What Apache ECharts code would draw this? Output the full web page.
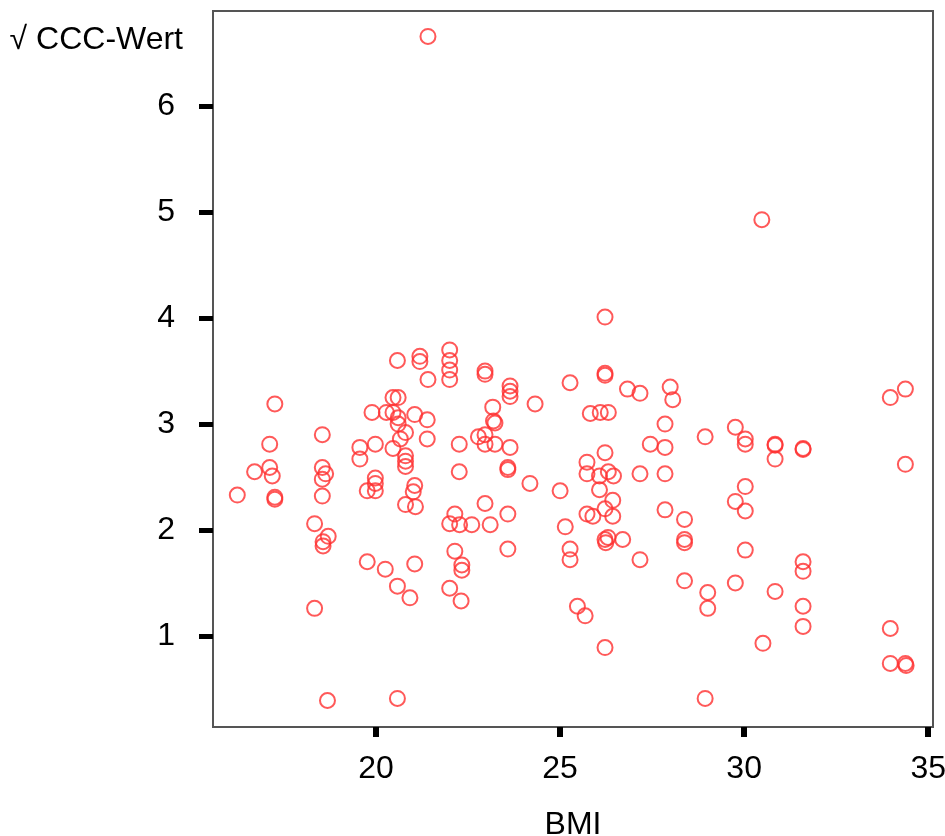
<!DOCTYPE html>
<html>
<head>
<meta charset="utf-8">
<script src="https://cdn.jsdelivr.net/npm/echarts@6/dist/echarts.min.js"></script>
<style>
html,body{margin:0;padding:0;background:#fff;}
#chart{width:945px;height:836px;}
</style>
</head>
<body>
<div id="chart"></div>
<script>
// BMI values (x)
const bmi = [
  16.23, 16.70, 17.11, 17.11, 17.18, 17.25, 17.25, 17.25, 18.33, 18.33,
  18.54, 18.54, 18.63, 18.54, 18.54, 18.70, 18.56, 18.56, 18.68, 19.56,
  19.56, 19.76, 19.76, 19.89, 19.98, 19.98, 19.98, 19.98, 20.25, 20.28,
  20.46, 20.60, 20.46, 20.46, 20.58, 20.60, 20.60, 20.58, 20.58, 20.66,
  20.80, 20.80, 20.80, 20.80, 20.80, 20.92, 21.05, 21.05, 21.01, 21.07,
  21.05, 21.19, 21.19, 21.39, 21.39, 21.41, 21.41, 22.00, 22.00, 22.00,
  22.00, 22.00, 22.00, 22.14, 22.14, 22.26, 22.26, 22.27, 22.33, 22.33,
  22.31, 22.60, 22.78, 22.96, 22.96, 22.96, 22.96, 22.96, 23.10, 23.17,
  23.19, 23.23, 23.23, 23.58, 23.58, 23.58, 23.58, 23.64, 23.64, 23.64,
  23.64, 24.18, 24.32, 25.00, 25.14, 25.27, 25.27, 25.27, 25.47, 25.68,
  25.73, 25.73, 25.73, 25.82, 25.89, 26.07, 26.07, 26.09, 26.22, 26.22,
  26.22, 26.22, 26.22, 26.22, 26.24, 26.30, 26.22, 26.31, 26.31, 26.43,
  26.43, 26.45, 26.70, 26.83, 27.17, 27.17, 27.17, 27.45, 27.85, 27.85,
  27.85, 27.85, 27.99, 28.06, 28.38, 28.38, 28.38, 28.38, 28.94, 28.94,
  29.01, 29.01, 29.76, 29.76, 29.76, 30.03, 30.03, 30.03, 30.03, 30.03,
  30.48, 30.51, 30.84, 30.84, 30.84, 30.84, 31.60, 31.60, 31.60, 31.60,
  31.60, 31.60, 33.97, 33.97, 33.97, 34.38, 34.38, 34.38, 34.40
];
// sqrt CCC values (y)
const ccc = [
  2.33, 2.55, 2.81, 2.59, 2.51, 3.19, 2.31, 2.29, 2.06, 1.26,
  2.90, 2.59, 2.53, 2.48, 2.32, 1.94, 1.89, 1.85, 0.39, 2.78,
  2.67, 2.37, 1.70, 3.11, 2.81, 2.49, 2.44, 2.37, 1.63, 3.11,
  3.25, 3.25, 3.11, 2.77, 3.60, 3.06, 3.00, 1.47, 0.41, 2.86,
  2.92, 2.70, 2.65, 2.60, 2.24, 1.36, 3.09, 2.42, 2.36, 2.22,
  1.68, 3.64, 3.59, 3.04, 2.86, 3.42, 6.66, 3.70, 3.60, 3.51,
  3.42, 2.06, 1.45, 2.15, 1.80, 2.81, 2.55, 2.05, 1.67, 1.62,
  1.33, 2.05, 2.88, 2.90, 2.81, 3.50, 3.47, 2.25, 2.05, 3.16,
  3.03, 3.01, 2.81, 2.59, 2.57, 2.15, 1.82, 3.36, 3.31, 3.26,
  2.78, 2.44, 3.19, 2.37, 2.03, 3.39, 1.82, 1.72, 1.28, 1.19,
  2.64, 2.53, 2.15, 3.10, 2.13, 2.51, 2.38, 3.11, 3.48, 3.46,
  4.01, 2.73, 2.20, 1.91, 1.88, 1.93, 0.89, 3.11, 2.55, 2.28,
  2.13, 2.51, 1.91, 3.33, 3.29, 2.53, 1.72, 2.81, 3.00, 2.78,
  2.53, 2.19, 3.35, 3.23, 2.10, 1.91, 1.88, 1.52, 2.88, 0.41,
  1.41, 1.26, 2.97, 2.27, 1.50, 2.86, 2.81, 2.41, 2.18, 1.81,
  4.93, 0.93, 2.81, 2.80, 2.67, 1.42, 2.77, 2.76, 1.70, 1.61,
  1.28, 1.09, 3.25, 1.07, 0.74, 3.33, 2.62, 0.74, 0.72
];
const xTicks = [20, 25, 30, 35];
const yTicks = [1, 2, 3, 4, 5, 6];

const points = bmi.map((x, i) => [x, ccc[i]]);
const FONT = "'Liberation Sans', Arial, sans-serif";

const chart = echarts.init(document.getElementById('chart'), null, {renderer: 'canvas'});
chart.setOption({
  animation: false,
  backgroundColor: '#ffffff',
  grid: {
    left: 213, right: 12, top: 11, bottom: 109,
    show: true, borderColor: '#555555', borderWidth: 2,
    containLabel: false,
    outerBoundsMode: 'none'
  },
  xAxis: {
    type: 'value',
    min: 15.57, max: 35.13,
    name: 'BMI',
    nameLocation: 'middle',
    nameGap: 82,
    nameTextStyle: {color: '#000', fontSize: 32, fontFamily: FONT},
    axisLine: {show: true, lineStyle: {color: '#555555', width: 2}},
    axisTick: {show: true, customValues: xTicks, length: 10, lineStyle: {color: '#000', width: 6}},
    axisLabel: {customValues: xTicks, color: '#000', fontSize: 32, fontFamily: FONT, margin: 26, hideOverlap: false},
    splitLine: {show: false}
  },
  yAxis: {
    type: 'value',
    min: 0.14, max: 6.90,
    name: '√ CCC-Wert',
    nameLocation: 'end',
    nameGap: -29,
    nameTextStyle: {color: '#000', fontSize: 32, fontFamily: FONT, align: 'right', verticalAlign: 'middle', padding: [0, 30, 0, 0]},
    axisLine: {show: true, lineStyle: {color: '#555555', width: 2}},
    axisTick: {show: true, customValues: yTicks, length: 14, lineStyle: {color: '#000', width: 5}},
    axisLabel: {customValues: yTicks, color: '#000', fontSize: 32, fontFamily: FONT, margin: 38},
    splitLine: {show: false}
  },
  series: [{
    type: 'scatter',
    data: points,
    symbol: 'circle',
    symbolSize: 15,
    itemStyle: {color: 'rgba(0,0,0,0)', borderColor: '#ff3030', borderWidth: 2},
    emphasis: {disabled: true}
  }]
});
</script>
</body>
</html>
